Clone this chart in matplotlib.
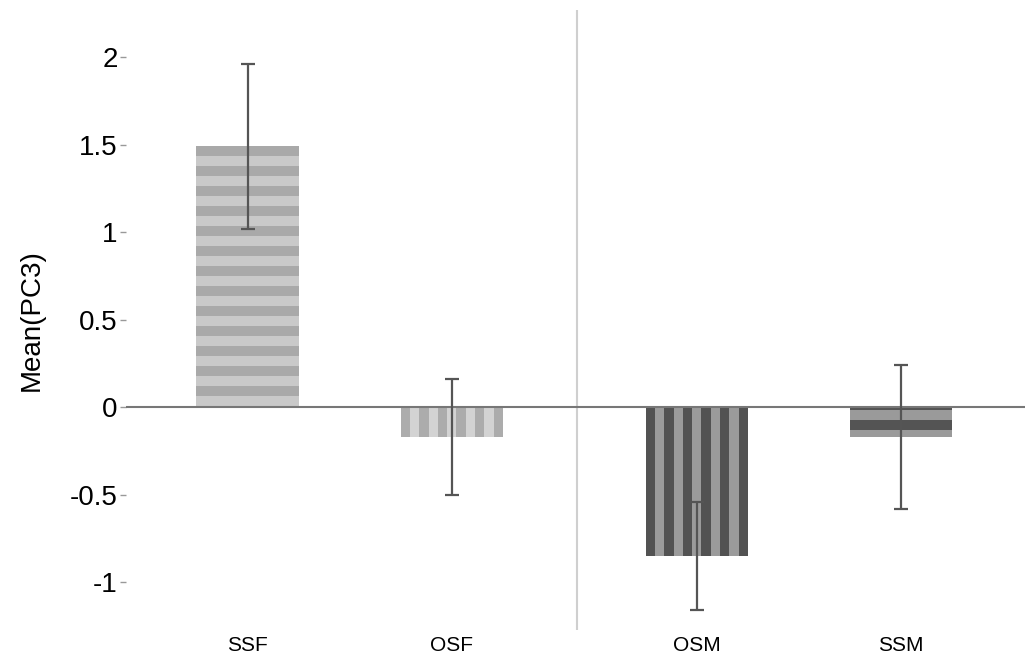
import matplotlib
matplotlib.use("Agg")
import matplotlib.pyplot as plt

plt.rcParams['font.family'] = ['Liberation Sans', 'DejaVu Sans']

# data
groups = ["SSF", "OSF", "OSM", "SSM"]
means = [1.49, -0.17, -0.85, -0.17]
errs = [0.47, 0.33, 0.31, 0.41]

# layout / style
xpos = [0, 1, 2.2, 3.2]
bar_w = 0.5
light_cols = ["#c9c9c9", "#d3d3d3", "#9b9b9b", "#9a9a9a"]
dark_cols = ["#a9a9a9", "#acacac", "#525252", "#545454"]
orient = ["h", "v", "v", "h"]


def stripe_bar(ax, x, h, light, dark, how, step_y=0.057, n_v=11, phase=0.0):
    ax.bar(x, h, width=bar_w, color=light, linewidth=0, zorder=2)
    if how == "v":
        sw = bar_w / n_v
        left = x - bar_w / 2
        for k in range(0, n_v, 2):
            ax.bar(left + sw * k + sw / 2, h, width=sw, color=dark, linewidth=0, zorder=3)
    else:
        top = h if h > 0 else 0
        y = top - phase
        k = 0
        while y > top - abs(h) - 1e-9:
            y0 = max(y - step_y, top - abs(h))
            y1 = min(y, top)
            if k % 2 == 0 and y1 > y0:
                ax.bar(x, y1 - y0, bottom=y0, width=bar_w, color=dark, linewidth=0, zorder=3)
            y -= step_y
            k += 1


fig = plt.figure(figsize=(10.25, 6.57), dpi=100)
ax = fig.add_axes([126 / 1025, 27 / 657, 899 / 1025, 620 / 657])

phases = [0.0, 0.0, 0.0, -0.04]
for i in range(len(groups)):
    stripe_bar(ax, xpos[i], means[i], light_cols[i], dark_cols[i], orient[i], phase=phases[i])

ax.errorbar(xpos, means, yerr=errs, fmt='none', ecolor='#555555',
            elinewidth=1.6, capsize=5, capthick=1.6, zorder=5)

ax.axhline(0, color='#777777', lw=1.5, zorder=4)
ax.axvline(1.615, color='#cfcfcf', lw=1.5, zorder=1)

ax.set_xlim(-0.595, 3.807)
ax.set_ylim(-1.274, 2.269)
ax.set_yticks([-1, -0.5, 0, 0.5, 1, 1.5, 2])
ax.set_yticklabels(["-1", "-0.5", "0", "0.5", "1", "1.5", "2"])
ax.set_xticks(xpos)
ax.set_xticklabels(groups)

for s in ax.spines.values():
    s.set_visible(False)

ax.tick_params(axis='y', labelsize=20, length=4, width=1, color='#999999', pad=2)
ax.tick_params(axis='x', labelsize=15, length=0, pad=4)
ax.set_ylabel("Mean(PC3)", fontsize=20, labelpad=18)

fig.savefig("out.png", dpi=100)
